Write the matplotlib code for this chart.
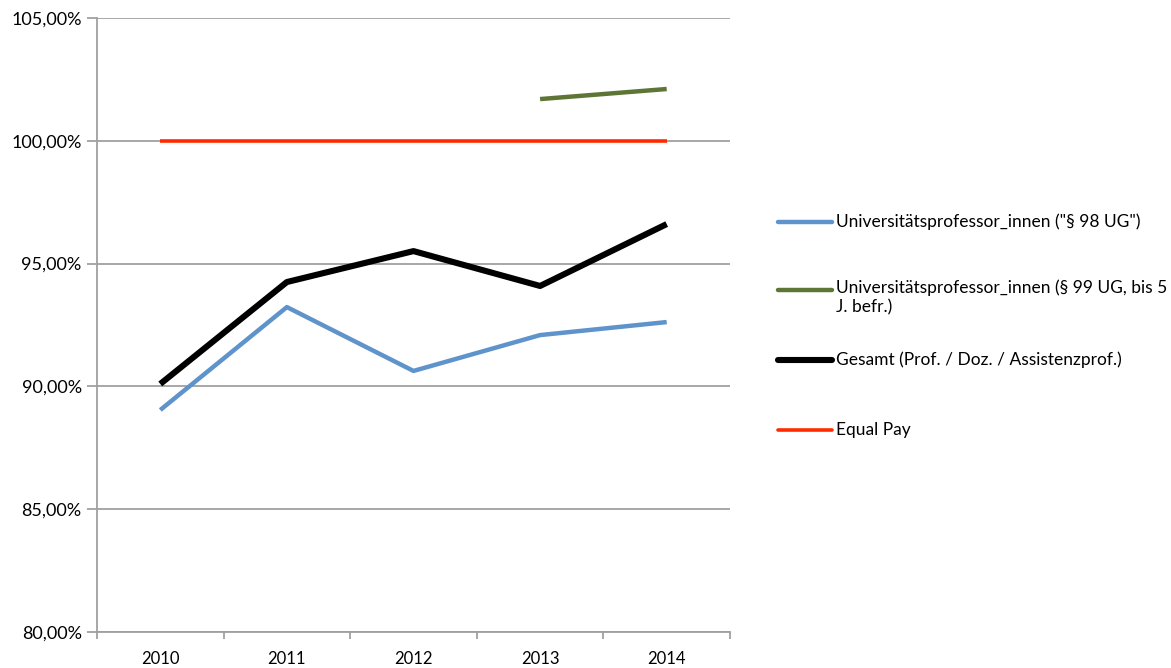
import numpy as np
import matplotlib
matplotlib.use("Agg")
import matplotlib.pyplot as plt
from matplotlib.lines import Line2D
from matplotlib.ticker import FixedLocator, FuncFormatter

plt.rcParams["font.family"] = ["Lato", "DejaVu Sans"]

years = ["2010", "2011", "2012", "2013", "2014"]
prof98 = [89.04, 93.23, 90.63, 92.09, 92.62]
prof99 = [np.nan, np.nan, np.nan, 101.70, 102.11]
gesamt = [90.10, 94.25, 95.51, 94.09, 96.61]
equal_pay = [100.0, 100.0, 100.0, 100.0, 100.0]

labels = ['Universitätsprofessor_innen ("§ 98 UG")',
          "Universitätsprofessor_innen (§ 99 UG, bis 5\nJ. befr.)",
          "Gesamt (Prof. / Doz. / Assistenzprof.)",
          "Equal Pay"]
colors = ["#5f93cb", "#5d7636", "#000000", "#ff2a00"]
widths = [3.2, 3.2, 4.4, 2.6]

fig = plt.figure(figsize=(11.71, 6.68), dpi=100)
ax = fig.add_axes([0.0828, 0.0539, 0.5406, 0.9191])

x = np.arange(len(years))
for ys, c, w in zip([prof98, prof99, gesamt, equal_pay], colors, widths):
    ax.plot(x, ys, color=c, lw=w, solid_capstyle="butt", zorder=3)

ax.set_xlim(-0.5, len(years) - 0.5)
ax.set_ylim(80, 105)
ax.set_yticks(np.arange(80, 105.1, 5))
ax.yaxis.set_major_formatter(FuncFormatter(lambda v, _: f"{v:.2f}%".replace(".", ",")))
ax.grid(axis="y", color="#a0a0a0", lw=1.3, zorder=0)

# category ticks sit between the years, labels centred under each year
ax.xaxis.set_major_locator(FixedLocator(np.arange(-0.5, len(years), 1.0)))
ax.xaxis.set_major_formatter(FuncFormatter(lambda v, _: ""))
ax.xaxis.set_minor_locator(FixedLocator(x))
ax.set_xticklabels(years, minor=True)
ax.tick_params(axis="x", which="major", length=5, width=1.3, color="#a0a0a0")
ax.tick_params(axis="x", which="minor", length=0, pad=14, labelsize=12)
ax.tick_params(axis="y", length=7, width=1.3, color="#a0a0a0", labelsize=13, pad=4)

for s in ("top", "right"):
    ax.spines[s].set_visible(False)
for s in ("left", "bottom"):
    ax.spines[s].set_color("#a0a0a0")
    ax.spines[s].set_linewidth(1.3)

# hand-placed legend rows
rows_y = [222, 290, 360, 430]
for lab, c, w, yp in zip(labels, colors, widths, rows_y):
    yf = 1 - yp / 668
    fig.add_artist(Line2D([778 / 1171, 832 / 1171], [yf, yf], color=c, lw=w,
                          solid_capstyle="round"))
    if "\n" in lab:
        fig.text(836 / 1171, yf + 11 / 668, lab, fontsize=12.5, va="top",
                 ha="left", linespacing=1.3)
    else:
        fig.text(836 / 1171, yf, lab, fontsize=12.5, va="center", ha="left")

fig.savefig("out.png", dpi=100)
